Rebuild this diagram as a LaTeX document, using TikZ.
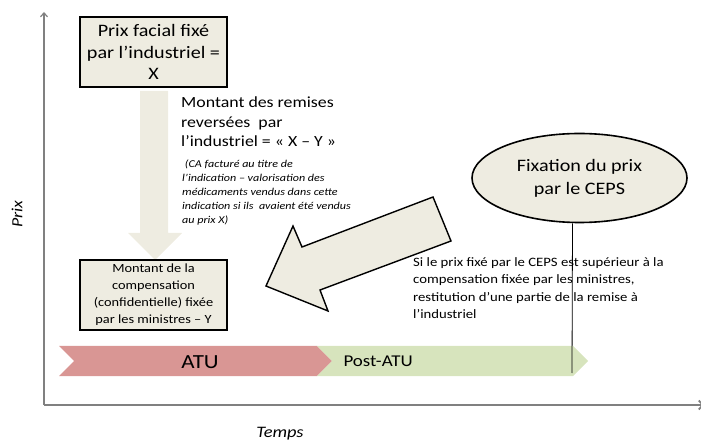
\documentclass[tikz,border=0pt]{standalone}
\usepackage{fontspec}
\setmainfont{Carlito}[FakeStretch=1.15]
\usetikzlibrary{arrows.meta,shapes.geometric}
\definecolor{beige}{HTML}{EEECE1}
\definecolor{atured}{HTML}{D99694}
\definecolor{atugreen}{HTML}{D7E4BD}
\definecolor{axisgray}{HTML}{808080}
\tikzset{
  boxnode/.style={draw=black, line width=1.8pt, fill=beige, inner sep=0pt, align=center},
  ellnode/.style={ellipse, draw=black, line width=1.6pt, fill=beige, inner sep=0pt, align=center},
  plain/.style={inner sep=0pt, align=left, anchor=north west},
  axisline/.style={draw=axisgray, line width=1.5pt},
}
\begin{document}
\begin{tikzpicture}[x=1pt,y=-1pt]
\useasboundingbox (0,0) rectangle (701,443);
% axes
\coordinate (O) at (44,405);
\coordinate (ytop) at (44,12);
\coordinate (xend) at (704,405);
\draw[axisline, line width=1.2pt, -{Straight Barb[length=4pt,width=7pt]}] (O) -- (ytop);
\draw[axisline, line width=1.8pt, -{Straight Barb[length=4pt,width=9pt]}] (O) -- (xend);
\node[rotate=90, font={\fontsize{15.5}{18}\selectfont\itshape}] (prix) at (17,214) {Prix};
\node[font={\fontsize{16}{19}\selectfont\itshape}] (temps) at (280,434) {Temps};

% chevrons
\fill[atured] (59,346) -- (317,346) -- (332,361) -- (317,376) -- (59,376) -- (74,361) -- cycle;
\fill[atugreen] (317,346) -- (573,346) -- (588,361) -- (573,376) -- (317,376) -- (332,361) -- cycle;
\node[font={\fontsize{20}{24}\selectfont}] (atu) at (200,362) {ATU};
\node[anchor=west, font={\fontsize{16.5}{20}\selectfont}] (post) at (340,361) {Post-ATU};

% down block arrow
\fill[beige] (140,91) -- (168,91) -- (168,233) -- (182,233) -- (155,260) -- (128,233) -- (140,233) -- cycle;

% boxes
\node[boxnode, minimum width=147pt, minimum height=70pt, font={\fontsize{17.5}{21.5}\selectfont}] (top) at (153.5,52)
  {Prix facial fixé\\par l’industriel =\\X};
\node[boxnode, minimum width=147pt, minimum height=70pt, font={\fontsize{12.5}{17}\selectfont}] (bot) at (153.5,295)
  {Montant de la\\compensation\\(confidentielle) fixée\\par les ministres – Y};

% texts
\node[plain, font={\fontsize{15.5}{19.5}\selectfont}] (remises) at (181,97)
  {Montant des remises\\reversées~ par\\l’industriel = « X – Y »};
\node[plain, font={\fontsize{10.5}{13.9}\selectfont\itshape}] (ca) at (182,160)
  {~(CA facturé au titre de\\l’indication – valorisation des\\médicaments vendus dans cette\\indication si ils~ avaient été vendus\\au prix X)};

% ellipse
\node[ellnode, minimum width=215pt, minimum height=89pt, font={\fontsize{17.5}{23}\selectfont}] (ceps) at (579.5,178)
  {Fixation du prix\\par le CEPS};
\coordinate (vtop) at ([xshift=-7pt]ceps.south);
\coordinate (vbot) at (572,373);
\draw[black, line width=0.8pt] (vtop) -- (vbot);

% big diagonal arrow
\filldraw[fill=beige, draw=black, line width=1.4pt, line join=miter]
  (433,197) -- (451,241) -- (320,290) -- (328,311) -- (266,286) -- (293,226) -- (302,247) -- cycle;

\node[plain, font={\fontsize{12.8}{17.5}\selectfont}] (si) at (413,257)
  {Si le prix fixé par le CEPS est supérieur à la\\compensation fixée par les ministres,\\restitution d’une partie de la remise à\\l’industriel};
\end{tikzpicture}
\end{document}
